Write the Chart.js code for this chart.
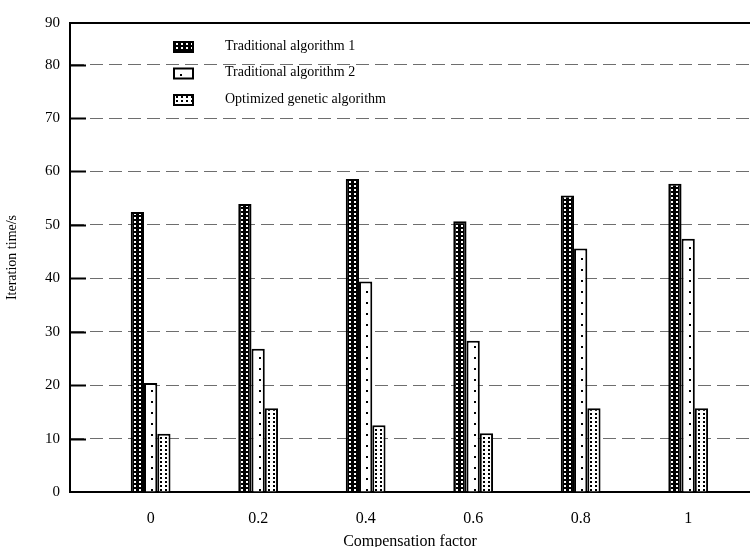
<!DOCTYPE html>
<html>
<head>
<meta charset="utf-8">
<script src="https://cdn.jsdelivr.net/npm/chart.js@4"></script>
<style>
  body { margin: 0; background: #fff; }
  #wrap { width: 750px; height: 547px; }
</style>
</head>
<body>
<div id="wrap"><canvas id="barChart" width="750" height="547"></canvas></div>
<script>
// data
var categories = [0, 0.2, 0.4, 0.6, 0.8, 1];
var xLabels = ['0', '0.2', '0.4', '0.6', '0.8', '1'];
var traditional1 = [52.4, 53.9, 58.6, 50.7, 55.5, 57.7];
var traditional2 = [20.4, 26.8, 39.4, 28.3, 45.6, 47.4];
var optimized = [10.9, 15.7, 12.5, 11.0, 15.7, 15.7];
var yTicks = [0, 10, 20, 30, 40, 50, 60, 70, 80];
var yTopLabel = '90';
var yMax = 87.8; // the frame in the picture closes a little under the 90 step
var seriesNames = ['Traditional algorithm 1', 'Traditional algorithm 2', 'Optimized genetic algorithm'];

var serif = "'Liberation Serif', 'Times New Roman', serif";
var groupPct = 0.37;

// little tiles for the hatch fills
function tile(w, h, bg, fg, dots) {
    var c = document.createElement('canvas');
    c.width = w; c.height = h;
    var t = c.getContext('2d');
    t.fillStyle = bg; t.fillRect(0, 0, w, h);
    t.fillStyle = fg;
    dots.forEach(function (d) { t.fillRect(d[0], d[1], 2, 2); });
    return c;
}
var tiles = [
    tile(5, 4, '#000', '#fff', [[1, 1]]),
    tile(13, 11, '#fff', '#000', [[5, 5]]),
    tile(5, 4, '#fff', '#000', [[1, 1]])
];
var ctx = document.getElementById('barChart').getContext('2d');

function patternAt(k, left, top) {
    var p = ctx.createPattern(tiles[k], 'repeat');
    p.setTransform(new DOMMatrix([1, 0, 0, 1, left, top || 0]));
    return p;
}

function barFill(k) {
    return function (c) {
        var xs = c.chart.scales.x;
        if (c.type !== 'data' || !xs) return patternAt(k, 0);
        var step = xs.getPixelForValue(categories[1]) - xs.getPixelForValue(categories[0]);
        var bw = step * groupPct / 3;
        var left = xs.getPixelForValue(categories[c.dataIndex]) + (c.datasetIndex - 1.5) * bw;
        return patternAt(k, Math.round(left) + 2);
    };
}

function points(vals) {
    return categories.map(function (x, i) { return { x: x, y: vals[i] }; });
}

var innerTicks = {
    id: 'innerTicks',
    beforeDatasetsDraw: function (chart) {
        var y = chart.scales.y, a = chart.chartArea, g = chart.ctx;
        g.save();
        g.strokeStyle = '#000';
        g.lineWidth = 2;
        yTicks.forEach(function (v) {
            if (v === 0) return;
            var py = Math.round(y.getPixelForValue(v)) + 0.5;
            g.beginPath(); g.moveTo(a.left, py); g.lineTo(a.left + 16, py); g.stroke();
        });
        g.restore();
    }
};

var boxLegend = {
    id: 'boxLegend',
    afterDraw: function (chart) {
        var g = chart.ctx;
        g.save();
        chart.data.datasets.forEach(function (ds, i) {
            var top = 42 + i * 26.5;
            g.fillStyle = patternAt(i, 175, Math.round(top));
            g.fillRect(174, top, 19, 10);
            g.strokeStyle = '#000';
            g.lineWidth = 2;
            g.strokeRect(174, top, 19, 10);
            g.fillStyle = '#000';
            g.font = '14px ' + serif;
            g.textBaseline = 'middle';
            g.fillText(ds.label, 225, top + 4);
        });
        g.restore();
    }
};

var myChart = new Chart(ctx, {
    type: 'bar',
    data: {
        datasets: [
            { label: seriesNames[0], data: points(traditional1), backgroundColor: barFill(0), borderColor: '#000', borderWidth: 2 },
            { label: seriesNames[1], data: points(traditional2), backgroundColor: barFill(1), borderColor: '#000', borderWidth: 2 },
            { label: seriesNames[2], data: points(optimized), backgroundColor: barFill(2), borderColor: '#000', borderWidth: 2 }
        ]
    },
    options: {
        responsive: false,
        animation: false,
        categoryPercentage: groupPct,
        barPercentage: 1,
        layout: { padding: { top: 15, right: 0, left: 0, bottom: 0 } },
        plugins: { legend: { display: false }, tooltip: { enabled: false } },
        scales: {
            x: {
                type: 'linear',
                offset: false,
                min: -0.15,
                max: 1.115,
                afterBuildTicks: function (s) { s.ticks = categories.map(function (v) { return { value: v }; }); },
                afterFit: function (s) { s.height = 55; },
                grid: { display: false },
                border: { display: true, color: '#000', width: 2 },
                ticks: {
                    padding: 9,
                    color: '#000',
                    font: { family: serif, size: 16 },
                    callback: function (v, i) { return xLabels[i]; }
                },
                title: {
                    display: true,
                    text: 'Compensation factor',
                    color: '#000',
                    font: { family: serif, size: 16, lineHeight: 1.2 },
                    padding: { top: 0, bottom: -4 }
                }
            },
            xTop: {
                type: 'linear',
                position: 'top',
                grid: { display: false },
                ticks: { display: false },
                border: { display: true, color: '#000', width: 2 }
            },
            y: {
                min: 0,
                max: yMax,
                afterBuildTicks: function (s) {
                    s.ticks = yTicks.map(function (v) { return { value: v }; });
                    s.ticks.push({ value: yMax });
                },
                afterFit: function (s) { s.width = 70; },
                grid: {
                    drawTicks: false,
                    lineWidth: 1,
                    color: function (c) {
                        var v = c.tick ? c.tick.value : 0;
                        return (v === 0 || v === yMax) ? 'rgba(0,0,0,0)' : '#6e6e6e';
                    }
                },
                border: { display: true, color: '#000', width: 2, dash: [13, 6] },
                ticks: {
                    padding: 10,
                    color: '#000',
                    font: { family: serif, size: 15 },
                    callback: function (v, i) { return v === yMax ? yTopLabel : String(yTicks[i]); }
                },
                title: {
                    display: true,
                    text: 'Iteration time/s',
                    color: '#000',
                    font: { family: serif, size: 14, lineHeight: 1.2 },
                    padding: { top: 4, bottom: 0 }
                }
            }
        }
    },
    plugins: [innerTicks, boxLegend]
});
</script>
</body>
</html>
